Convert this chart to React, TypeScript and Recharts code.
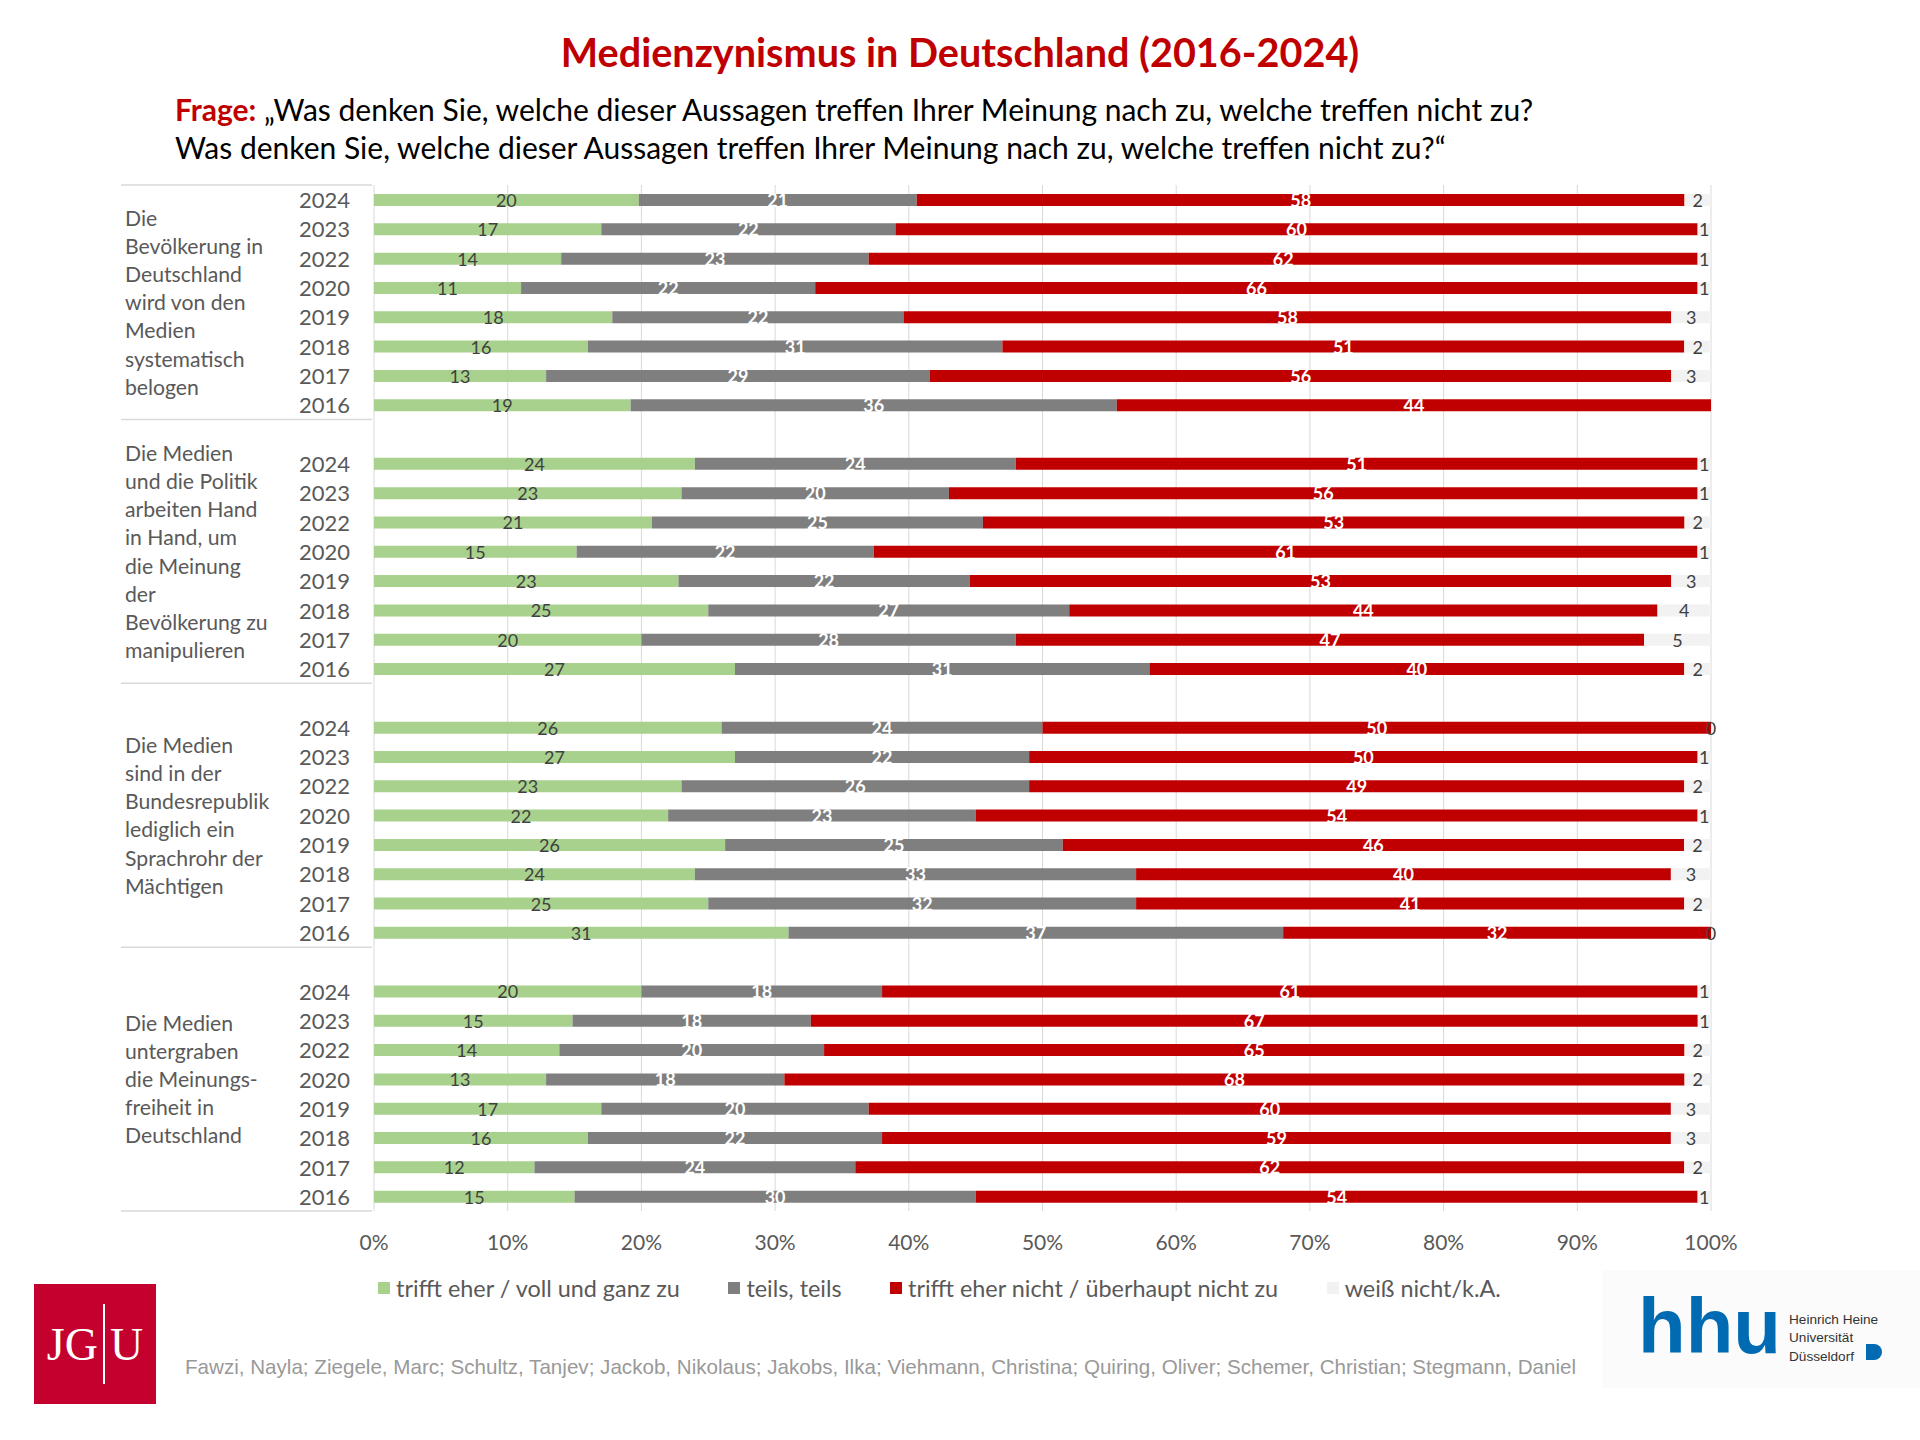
import { BarChart, Bar, XAxis, YAxis, CartesianGrid, LabelList } from "recharts";

// Jahre je Aussage (von oben nach unten)
const YEARS = ["2024", "2023", "2022", "2020", "2019", "2018", "2017", "2016"];

const STATEMENTS = [
    ["Die", "Bevölkerung in", "Deutschland", "wird von den", "Medien", "systematisch", "belogen"],
    ["Die Medien", "und die Politik", "arbeiten Hand", "in Hand, um", "die Meinung", "der", "Bevölkerung zu", "manipulieren"],
    ["Die Medien", "sind in der", "Bundesrepublik", "lediglich ein", "Sprachrohr der", "Mächtigen"],
    ["Die Medien", "untergraben", "die Meinungs-", "freiheit in", "Deutschland"],
];

// trifft eher / voll und ganz zu
const trifftZu = [
    [20, 17, 14, 11, 18, 16, 13, 19],
    [24, 23, 21, 15, 23, 25, 20, 27],
    [26, 27, 23, 22, 26, 24, 25, 31],
    [20, 15, 14, 13, 17, 16, 12, 15],
];

// teils, teils
const teils = [
    [21, 22, 23, 22, 22, 31, 29, 36],
    [24, 20, 25, 22, 22, 27, 28, 31],
    [24, 22, 26, 23, 25, 33, 32, 37],
    [18, 18, 20, 18, 20, 22, 24, 30],
];

// trifft eher nicht / überhaupt nicht zu
const trifftNicht = [
    [58, 60, 62, 66, 58, 51, 56, 44],
    [51, 56, 53, 61, 53, 44, 47, 40],
    [50, 50, 49, 54, 46, 40, 41, 32],
    [61, 67, 65, 68, 60, 59, 62, 54],
];

// weiß nicht/k.A.
const weissNicht = [
    [2, 1, 1, 1, 3, 2, 3, null],
    [1, 1, 2, 1, 3, 4, 5, 2],
    [0, 1, 2, 1, 2, 3, 2, 0],
    [1, 1, 2, 2, 3, 3, 2, 1],
];

const SERIES = [
    { key: "zu", name: "trifft eher / voll und ganz zu", color: "#a9d18e", label: "#404040", values: trifftZu },
    { key: "teils", name: "teils, teils", color: "#7f7f7f", label: "#ffffff", values: teils },
    { key: "nicht", name: "trifft eher nicht / überhaupt nicht zu", color: "#c00000", label: "#ffffff", values: trifftNicht },
    { key: "wn", name: "weiß nicht/k.A.", color: "#f2f2f2", label: "#404040", values: weissNicht },
];

const TICKS = [0, 0.1, 0.2, 0.3, 0.4, 0.5, 0.6, 0.7, 0.8, 0.9, 1];

const FONT = "Lato, 'Open Sans', sans-serif";
const ARIAL = "'Liberation Sans', Arial, sans-serif";
const TEXT = "#595959";

// Layout
const CHART_W = 1920;
const CHART_H = 1300;
const LEFT = 374;
const MARGIN = { top: 185, right: 209, bottom: 49, left: 0 };
const X_AXIS_H = 40;

const rows: any[] = [];
STATEMENTS.forEach((_, g) => {
    if (g > 0) rows.push({ slot: `gap-${g}`, gap: true, zu: 0, teils: 0, nicht: 0, wn: 0 });
    YEARS.forEach((year, i) => {
        const row: any = { slot: `${g}-${year}`, group: g, year };
        SERIES.forEach((s) => {
            const v = s.values[g][i];
            row[s.key] = v ?? 0;
            row[`${s.key}Label`] = v;
        });
        // 0-Werte haben keine Balkenbreite -> Beschriftung am Ende des roten Balkens
        row.wnZero = weissNicht[g][i] === 0 ? 0 : null;
        rows.push(row);
    });
});

const PLOT_H = CHART_H - MARGIN.top - MARGIN.bottom - X_AXIS_H;
const BAND = PLOT_H / rows.length;

// Mittelpunkt der Gruppe in Zeilen-Index (Gruppe 0 ohne Leerzeile)
const groupCenter = (g: number) => (g === 0 ? 3.5 : 8 + (g - 1) * 9 + 4);
const groupEnd = (g: number) => 7 + g * 9;

const YearTick = (props: any) => {
    const { y, payload } = props;
    const index = rows.findIndex((r) => r.slot === payload.value);
    const row = rows[index];
    const parts: any[] = [];
    if (index === 0) {
        parts.push(<line key="top" x1={121} x2={LEFT - 2} y1={y - BAND / 2} y2={y - BAND / 2} stroke="#d9d9d9" strokeWidth={1.5} />);
    }
    STATEMENTS.forEach((lines, g) => {
        if (groupEnd(g) === index) {
            parts.push(<line key={`sep-${g}`} x1={121} x2={LEFT - 2} y1={y + BAND / 2} y2={y + BAND / 2} stroke="#d9d9d9" strokeWidth={1.5} />);
        }
        const c = groupCenter(g);
        if (Math.floor(c) === index) {
            const cy = y + (c - index) * BAND;
            const lh = 28.2;
            parts.push(
                <text key={`lab-${g}`} x={125} fontFamily={FONT} fontSize={21.2} fill={TEXT}>
                    {lines.map((l, i) => (
                        <tspan key={i} x={125} y={cy + (i - (lines.length - 1) / 2) * lh} dominantBaseline="central">
                            {l}
                        </tspan>
                    ))}
                </text>
            );
        }
    });
    if (row && !row.gap) {
        parts.push(
            <text key="year" x={350} y={y} textAnchor="end" dominantBaseline="central" fontFamily={FONT} fontSize={22} fill={TEXT}>
                {row.year}
            </text>
        );
    }
    return <g>{parts}</g>;
};

const makeLabel = (color: string, atEnd = false) => (props: any) => {
    const { value } = props;
    const vb = props.viewBox ?? props;
    if (value === null || value === undefined) return null;
    return (
        <text
            x={atEnd ? vb.x + vb.width : vb.x + vb.width / 2}
            y={vb.y + vb.height / 2}
            textAnchor="middle"
            dominantBaseline="central"
            fontFamily={FONT}
            fontSize={18}
            fontWeight={color === "#ffffff" ? 700 : 400}
            fill={color}
        >
            {value}
        </text>
    );
};

export default function App() {
    return (
        <div style={{ position: "absolute", left: 0, top: 0, width: 1920, height: 1440, background: "#fff", fontFamily: FONT }}>
            <div style={{ position: "absolute", top: 28, left: 0, width: 1920, textAlign: "center", color: "#c00000", fontSize: 39.6, fontWeight: 700 }}>
                Medienzynismus in Deutschland (2016-2024)
            </div>
            <div style={{ position: "absolute", top: 90, left: 175, fontSize: 30, color: "#000", lineHeight: "38px" }}>
                <span style={{ color: "#c00000", fontWeight: 700 }}>Frage:</span> „Was denken Sie, welche dieser Aussagen treffen Ihrer Meinung nach zu, welche treffen nicht zu?
                <br />
                Was denken Sie, welche dieser Aussagen treffen Ihrer Meinung nach zu, welche treffen nicht zu?“
            </div>

            <div style={{ position: "absolute", left: 0, top: 0 }}>
                <BarChart width={CHART_W} height={CHART_H} data={rows} layout="vertical" stackOffset="expand" margin={MARGIN} barSize={12}>
                    <CartesianGrid horizontal={false} stroke="#d9d9d9" />
                    <XAxis
                        type="number"
                        domain={[0, 1]}
                        ticks={TICKS}
                        height={X_AXIS_H}
                        tickFormatter={(v: number) => `${Math.round(v * 100)}%`}
                        axisLine={false}
                        tickLine={false}
                        tickMargin={18}
                        tick={{ fontSize: 21, fill: TEXT, fontFamily: FONT }}
                        interval={0}
                    />
                    <YAxis type="category" dataKey="slot" width={LEFT} axisLine={false} tickLine={false} tick={<YearTick />} interval={0} />
                    {SERIES.map((s) => (
                        <Bar key={s.key} dataKey={s.key} name={s.name} stackId="a" fill={s.color} isAnimationActive={false}>
                            <LabelList dataKey={`${s.key}Label`} content={makeLabel(s.label)} />
                            {s.key === "nicht" && <LabelList dataKey="wnZero" content={makeLabel("#404040", true)} />}
                        </Bar>
                    ))}
                </BarChart>
            </div>

            <div style={{ position: "absolute", top: 1274, left: 378, display: "flex", gap: 48.5, fontSize: 23.4, color: TEXT, alignItems: "center" }}>
                {SERIES.map((s) => (
                    <div key={s.key} style={{ display: "flex", alignItems: "center", gap: 6 }}>
                        <span style={{ width: 12, height: 12, background: s.color, display: "inline-block" }} />
                        <span>{s.name}</span>
                    </div>
                ))}
            </div>

            <div style={{ position: "absolute", left: 34, top: 1284, width: 122, height: 120, background: "#c4002f", display: "flex", alignItems: "center", justifyContent: "center", color: "#fff", fontFamily: "'Liberation Serif', serif", fontSize: 46 }}>
                <span>JG</span>
                <span style={{ width: 2, height: 80, background: "#fff", margin: "0 5px" }} />
                <span>U</span>
            </div>

            <div style={{ position: "absolute", left: 185, top: 1355, fontFamily: ARIAL, fontSize: 20.6, color: "#999999" }}>
                Fawzi, Nayla; Ziegele, Marc; Schultz, Tanjev; Jackob, Nikolaus; Jakobs, Ilka; Viehmann, Christina; Quiring, Oliver; Schemer, Christian; Stegmann, Daniel
            </div>

            <div style={{ position: "absolute", left: 1602, top: 1270, width: 318, height: 118, background: "#fbfbfb" }}>
                <div style={{ position: "absolute", left: 36, top: 14, fontFamily: ARIAL, fontWeight: 700, fontSize: 78, color: "#006ab3", lineHeight: "84px", letterSpacing: 0 }}>
                    hhu
                </div>
                <div style={{ position: "absolute", left: 187, top: 41, fontFamily: ARIAL, fontSize: 13.6, color: "#333", lineHeight: "18.4px" }}>
                    Heinrich Heine
                    <br />
                    Universität
                    <br />
                    Düsseldorf
                </div>
                <div style={{ position: "absolute", left: 264, top: 74, width: 16, height: 16, background: "#006ab3", borderRadius: "0 8px 8px 0" }} />
            </div>
        </div>
    );
}
